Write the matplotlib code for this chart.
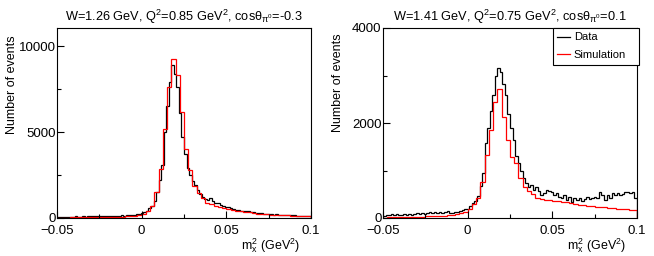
import numpy as np
import matplotlib
matplotlib.use("Agg")
import matplotlib.pyplot as plt
from matplotlib.ticker import MultipleLocator

plt.rcParams["font.family"] = ["Liberation Sans", "DejaVu Sans"]
plt.rcParams["mathtext.fontset"] = "custom"
plt.rcParams["mathtext.rm"] = "Liberation Sans"
plt.rcParams["mathtext.it"] = "Liberation Sans"
plt.rcParams["mathtext.bf"] = "Liberation Sans:bold"

# histogram range (GeV^2)
x_min, x_max = -0.05, 0.1
n_data_bins = 100
n_sim_bins = 60

titles = [
    r"W=1.26 GeV, Q$^{2}$=0.85 GeV$^{2}$, cos$\mathregular{\theta_{\pi^{0}}}$=-0.3",
    r"W=1.41 GeV, Q$^{2}$=0.75 GeV$^{2}$, cos$\mathregular{\theta_{\pi^{0}}}$=0.1",
]

# left panel: W=1.26, Q2=0.85, cos=-0.3
left_data = [
    40, 60, 50, 70, 60, 80, 60, 90, 70, 80, 100, 80, 90, 110, 90, 100, 120,
    100, 110, 130, 110, 120, 140, 130, 120, 150, 140, 160, 150, 180, 190, 220, 250,
    280, 330, 420, 560, 700, 1000, 1500, 2200,
    3100, 5000, 6500, 7900, 8900, 8400, 7600, 6100, 4700, 3700, 2900, 2500, 2150,
    1900, 1600, 1400, 1250, 1100, 1050, 1150, 1000, 900, 850, 780, 720,
    650, 620, 560, 520, 480, 450, 430, 400, 390, 420, 360, 330, 300, 290, 270,
    250, 240, 230, 220, 200, 210, 190, 180, 170, 165, 180, 160, 150, 145, 140,
    130, 120, 110, 100,
]
left_sim = [
    20, 25, 25, 30, 30, 35, 35, 40, 40, 45, 50, 55, 60, 65, 70, 80, 90, 100, 120, 150,
    240, 400, 700, 1500, 2850, 5200, 7600, 9240, 8300, 6150, 4000, 2800, 1850,
    1450, 1140, 900, 800, 720, 640, 570, 500, 460, 420, 380, 350, 320, 290, 260,
    240, 220, 200, 185, 170, 160, 150, 140, 130, 120, 110, 100,
]

# right panel: W=1.41, Q2=0.75, cos=0.1
right_data = [
    40, 70, 60, 80, 60, 90, 70, 60, 80, 70, 90, 60, 80, 100, 90, 110, 80,
    100, 130, 110, 120, 100, 130, 110, 120, 140, 110, 100, 130, 120, 140, 170, 180,
    200, 260, 310, 350, 470, 680, 950, 1580,
    1900, 2250, 2600, 3000, 3150, 3080, 2830, 2600, 2200, 1900, 1640, 1300, 1150,
    1000, 850, 730, 660, 700, 600, 660, 570, 480, 520, 600, 560,
    554, 484, 520, 450, 414, 484, 380, 450, 344, 414, 380, 414, 365, 393, 450,
    393, 414, 450, 414, 554, 484, 380, 484, 414, 520, 484, 520, 484, 505, 540,
    540, 520, 540, 414,
]
right_sim = [
    10, 15, 15, 20, 20, 20, 25, 25, 30, 30, 35, 35, 40, 45, 50, 55,
    60, 80, 100, 130, 200, 290, 430, 750,
    1330, 1850, 2450, 2710, 2130, 1640, 1290, 1150, 840, 660, 560, 500, 420,
    390, 380, 370, 360, 350, 340, 330, 310, 295, 280, 270, 260, 250, 240, 230,
    225, 215, 205, 200, 190, 180, 165, 160,
]

y_limits = [11050, 4000]
y_major = [5000, 2000]
y_minor = [2500, 1000]
ylabel_y = [0.70, 0.71]

data_edges = np.linspace(x_min, x_max, n_data_bins + 1)
sim_edges = np.linspace(x_min, x_max, n_sim_bins + 1)

fig = plt.figure(figsize=(6.54, 2.56), dpi=100)
axes = [
    fig.add_axes([57 / 654, 38 / 256, 254 / 654, 190 / 256]),
    fig.add_axes([383 / 654, 38 / 256, 254 / 654, 190 / 256]),
]

panels = [(left_data, left_sim), (right_data, right_sim)]
for i, (ax, (data, sim)) in enumerate(zip(axes, panels)):
    ax.stairs(data, data_edges, color="black", lw=0.9, label="Data")
    ax.stairs(sim, sim_edges, color="red", lw=0.9, label="Simulation")

    ax.set_xlim(x_min, x_max)
    ax.set_ylim(0, y_limits[i])
    ax.xaxis.set_major_locator(MultipleLocator(0.05))
    ax.xaxis.set_minor_locator(MultipleLocator(0.025))
    ax.yaxis.set_major_locator(MultipleLocator(y_major[i]))
    ax.yaxis.set_minor_locator(MultipleLocator(y_minor[i]))
    ax.xaxis.set_major_formatter(plt.FuncFormatter(lambda v, p: f"{v:g}".replace("-", "\u2212")))
    ax.tick_params(which="both", direction="in", top=False, right=False, labelsize=9.5, width=0.8)
    ax.tick_params(which="major", length=5)
    ax.tick_params(which="minor", length=3)
    ax.tick_params(axis="y", pad=1)
    ax.tick_params(axis="x", pad=5)
    for sp in ax.spines.values():
        sp.set_linewidth(0.8)

    ax.set_title(titles[i], fontsize=9.2, pad=5)
    ax.set_ylabel("Number of events", fontsize=9)
    ax.yaxis.set_label_coords(-0.152, ylabel_y[i])
    ax.set_xlabel(r"m$_{x}^{2}$ (GeV$^{2}$)", fontsize=9, ha="right")
    ax.xaxis.set_label_coords(0.957, -0.095)

leg = axes[1].legend(
    loc="upper left", bbox_to_anchor=(0.668, 0.805, 0.34, 0.195), mode="expand",
    fontsize=8, frameon=True, fancybox=False, edgecolor="black", framealpha=1,
    handlelength=1.2, handletextpad=0.3, borderpad=0.4, labelspacing=0.7,
    borderaxespad=0,
)
leg.get_frame().set_linewidth(0.8)

fig.savefig("out.png", dpi=100)
